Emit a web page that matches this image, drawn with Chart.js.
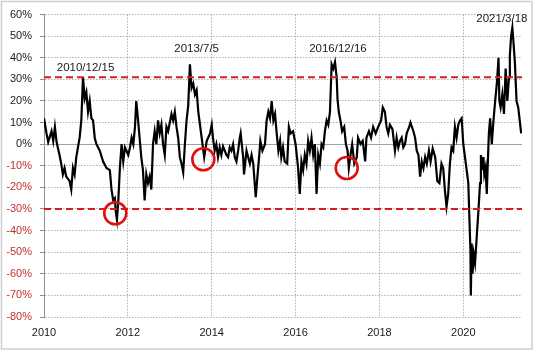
<!DOCTYPE html>
<html>
<head>
<meta charset="utf-8">
<script src="https://cdn.jsdelivr.net/npm/chart.js@4"></script>
<style>
  html, body { margin: 0; padding: 0; background: #fff; }
</style>
</head>
<body>
<canvas id="chart" width="540" height="351"></canvas>
<script>
// decimal years and % values
const dates = [
    2010.00, 2010.06, 2010.10, 2010.18, 2010.22, 2010.26, 2010.30, 2010.37, 2010.41, 2010.45, 2010.49, 2010.53, 2010.61, 2010.65, 2010.69, 2010.73, 2010.77, 2010.85, 2010.89, 2010.93, 2010.97,
    2011.01, 2011.05, 2011.09, 2011.13, 2011.17, 2011.21, 2011.25, 2011.33, 2011.41, 2011.49, 2011.57, 2011.61, 2011.65, 2011.69, 2011.71, 2011.74, 2011.77, 2011.81, 2011.85, 2011.89, 2011.93,
    2012.01, 2012.05, 2012.09, 2012.13, 2012.17, 2012.20, 2012.24, 2012.28, 2012.32, 2012.36, 2012.40, 2012.44, 2012.48, 2012.52, 2012.56, 2012.60, 2012.64, 2012.68, 2012.72, 2012.76, 2012.80, 2012.84, 2012.88, 2012.92, 2012.96,
    2013.04, 2013.08, 2013.12, 2013.16, 2013.20, 2013.24, 2013.28, 2013.32, 2013.36, 2013.40, 2013.44, 2013.48, 2013.52, 2013.56, 2013.60, 2013.64, 2013.68, 2013.72, 2013.76, 2013.80, 2013.82, 2013.88, 2013.96,
    2014.00, 2014.03, 2014.07, 2014.11, 2014.15, 2014.19, 2014.23, 2014.27, 2014.35, 2014.39, 2014.43, 2014.47, 2014.51, 2014.55, 2014.59, 2014.63, 2014.67, 2014.69, 2014.75, 2014.77, 2014.83, 2014.87, 2014.91, 2014.95, 2014.99,
    2015.05, 2015.09, 2015.13, 2015.16, 2015.21, 2015.27, 2015.31, 2015.35, 2015.39, 2015.43, 2015.47, 2015.51, 2015.55, 2015.59, 2015.63, 2015.66, 2015.70, 2015.74, 2015.80, 2015.84, 2015.88, 2015.94,
    2016.00, 2016.06, 2016.10, 2016.14, 2016.18, 2016.22, 2016.26, 2016.30, 2016.34, 2016.38, 2016.42, 2016.46, 2016.50, 2016.54, 2016.58, 2016.62, 2016.66, 2016.70, 2016.74, 2016.78, 2016.82, 2016.86, 2016.90, 2016.94, 2016.98,
    2017.00, 2017.03, 2017.07, 2017.11, 2017.16, 2017.20, 2017.24, 2017.27, 2017.31, 2017.35, 2017.40, 2017.46, 2017.49, 2017.55, 2017.60, 2017.66, 2017.69, 2017.75, 2017.80, 2017.85, 2017.91, 2017.97,
    2018.04, 2018.08, 2018.13, 2018.17, 2018.21, 2018.25, 2018.31, 2018.37, 2018.41, 2018.45, 2018.49, 2018.53, 2018.57, 2018.61, 2018.65, 2018.71, 2018.74, 2018.81, 2018.85, 2018.89, 2018.93, 2018.97,
    2019.01, 2019.05, 2019.09, 2019.13, 2019.18, 2019.22, 2019.27, 2019.33, 2019.38, 2019.43, 2019.48, 2019.52, 2019.56, 2019.60, 2019.64, 2019.68, 2019.72, 2019.76, 2019.80, 2019.84, 2019.88, 2019.92, 2019.96,
    2020.00, 2020.04, 2020.08, 2020.12, 2020.14, 2020.17, 2020.18, 2020.20, 2020.22, 2020.25, 2020.28, 2020.32, 2020.36, 2020.40, 2020.42, 2020.45, 2020.48, 2020.50, 2020.53, 2020.56, 2020.58, 2020.61, 2020.64, 2020.68, 2020.72, 2020.76, 2020.80, 2020.84, 2020.86, 2020.89, 2020.93, 2020.97,
    2021.01, 2021.05, 2021.09, 2021.11, 2021.14, 2021.17, 2021.19, 2021.23, 2021.27, 2021.31, 2021.34, 2021.38
];
const values = [
    12, 5, 1, 6, 1.5, 8, 1, -5, -9, -14, -11, -15, -17, -21, -11, -14, -6, 3, 11, 31, 21,
    24, 15, 20, 12, 11, 3, 0, -3, -8, -11, -12, -21, -26, -25, -31, -35, -27, -11, 0, -8, -1.5,
    -5, -1.5, 3, 0, 8, 20, 12, 3, -6, -12, -26, -14, -18, -15, -21, 0, 6, 0, 11, 5, 9, 0, -5, 8, 6,
    14, 11, 15, 8, 3, -6, -9, -13, 0, 11, 18, 37, 26, 28, 23, 25, 15, 9, 3, -3, -6, 1.5, 5,
    9, 3, -3, 0, -6, -1.5, -5, -1, -5, -6, -1.5, -3, 0, -6, -8, -3, 3, 5, -6, -14, -3, -6, -9, -5, -9,
    -24.5, -15, -6, 1.5, -3, 0, 11, 15, 12, 20, 11, 14, 5, -3, 1.5, -6, -1.5, -8, -9, 8, 5, 6,
    0, -11, -23, -8, -12, -5, -9, 1.5, -3, 3, -5, 0, -23, -5, -9, 0, -1.5, 6, 11, 9, 15, 37, 35, 38, 31,
    21, 15, 11, 6, 8, 0, -3, -11, -5, 0, -9, -6, 3, 0, 1.5, -8, 3, 6, 3, 8, 5, 8,
    11, 17, 15, 8, 5, 9, 7, -3, 3, -1.5, 1.5, 3, -1.5, 0, 5, 8, 10, 6, 3, -3, -5, -15,
    -8, -11, -6, -9, -3, -8, -2, -6, -17, -18, -9, -11, -21, -29, -23, -9, -1.5, -3, 8, 3, 9, 11, 12,
    0, -6, -12, -18, -31, -49, -70, -46, -60, -51, -55, -43, -31, -18, -5, -12, -6, -14, -11, -23, -11, 5, 12, 0, 11, 20, 28, 40, 20, 17, 23, 14,
    35, 20, 31, 41, 50, 54, 49, 38, 20, 17, 12, 5
];

const upperBand = 31;
const lowerBand = -30;
const bandDates = [2010, 2021.4];

const circleDates = [2011.70, 2013.80, 2017.22];
const circleValues = [-32, -7, -11];

const peakLabels = ['2010/12/15', '2013/7/5', '2016/12/16', '2021/3/18'];
const peakLabelDates = [2010.99, 2013.64, 2017.01, 2020.92];
const peakLabelValues = [35.5, 44, 44, 58];

const xTicks = [2010, 2012, 2014, 2016, 2018, 2020];

const FONT = 'Liberation Sans, Arial, sans-serif';
const RED = '#d51f1f';

function pts(xs, ys) {
    return xs.map(function(x, i) { return { x: x, y: ys[i] }; });
}

const framePlugin = {
    id: 'frame',
    beforeDraw: function(chart) {
        const ctx = chart.ctx;
        ctx.save();
        ctx.fillStyle = '#fff';
        ctx.fillRect(0, 0, chart.width, chart.height);
        ctx.strokeStyle = '#cfcfcf';
        ctx.lineWidth = 1.5;
        ctx.strokeRect(1.5, 1.5, 530.5, 347.5);
        ctx.restore();
    },
    beforeDatasetsDraw: function(chart) {
        // solid zero line
        const ctx = chart.ctx, a = chart.chartArea;
        const y0 = Math.round(chart.scales.y.getPixelForValue(0)) + 0.5;
        ctx.save();
        ctx.strokeStyle = '#a0a0a0';
        ctx.lineWidth = 1;
        ctx.beginPath();
        ctx.moveTo(a.left, y0);
        ctx.lineTo(a.right, y0);
        ctx.stroke();
        ctx.restore();
    },
    afterDatasetsDraw: function(chart) {
        const ctx = chart.ctx;
        ctx.save();
        ctx.font = '11.5px ' + FONT;
        ctx.fillStyle = '#1a1a1a';
        ctx.textAlign = 'center';
        ctx.textBaseline = 'middle';
        peakLabels.forEach(function(txt, i) {
            const x = chart.scales.x.getPixelForValue(peakLabelDates[i]);
            const y = chart.scales.y.getPixelForValue(peakLabelValues[i]);
            ctx.fillText(txt, x, y);
        });
        ctx.restore();
    }
};

new Chart(document.getElementById('chart'), {
    type: 'line',
    data: {
        datasets: [
            {
                type: 'scatter',
                data: pts(circleDates, circleValues),
                showLine: false,
                pointRadius: 11,
                pointHoverRadius: 11,
                pointBorderWidth: 2.6,
                pointBorderColor: '#e01010',
                pointBackgroundColor: 'rgba(0,0,0,0)',
                order: 0
            },
            {
                data: pts(bandDates, [upperBand, upperBand]),
                borderColor: RED,
                borderWidth: 2.2,
                borderDash: [7, 4],
                pointRadius: 0,
                order: 1
            },
            {
                data: pts(bandDates, [lowerBand, lowerBand]),
                borderColor: RED,
                borderWidth: 2.2,
                borderDash: [7, 4],
                pointRadius: 0,
                order: 1
            },
            {
                data: pts(dates, values),
                borderColor: '#000',
                borderWidth: 2.2,
                borderJoinStyle: 'miter',
                pointRadius: 0,
                tension: 0,
                order: 2
            }
        ]
    },
    options: {
        responsive: false,
        animation: false,
        events: [],
        layout: { padding: { top: 13, right: 18, bottom: 0, left: 0 } },
        plugins: {
            legend: { display: false },
            tooltip: { enabled: false }
        },
        scales: {
            x: {
                type: 'linear',
                min: 2010,
                max: 2021.4,
                afterBuildTicks: function(s) { s.ticks = xTicks.map(function(v) { return { value: v }; }); },
                afterFit: function(s) { s.height = 34; },
                ticks: {
                    padding: 9,
                    color: '#1a1a1a',
                    font: { family: FONT, size: 11 },
                    callback: function(v) { return String(v); }
                },
                grid: { color: '#b0b0b0', lineWidth: 1, drawTicks: false },
                border: { display: false, dash: [1.5, 1.5] }
            },
            y: {
                min: -80,
                max: 60,
                afterFit: function(s) { s.width = 44; },
                ticks: {
                    stepSize: 10,
                    padding: 8,
                    font: { family: FONT, size: 11 },
                    color: function(c) { return c.tick && c.tick.value < 0 ? '#c3312f' : '#1a1a1a'; },
                    callback: function(v) { return v + '%'; }
                },
                grid: { color: '#b0b0b0', lineWidth: 1, tickLength: 4, tickColor: '#909090' },
                border: { display: true, color: '#909090', width: 1, dash: [1.5, 1.5] }
            }
        }
    },
    plugins: [framePlugin]
});
</script>
</body>
</html>
